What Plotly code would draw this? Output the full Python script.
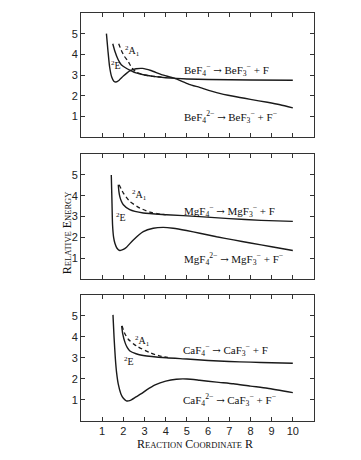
import plotly.graph_objects as go

# ---------------- data ----------------
# Be panel
be_di_R = [1.2, 1.27, 1.35, 1.45, 1.55, 1.65, 1.8, 2.0, 2.3, 2.6, 2.9, 3.3, 3.8, 4.4, 5.1, 5.6, 6.4, 7.2, 8.0, 8.8, 9.4, 10.0]
be_di_E = [5.0, 4.2, 3.4, 2.9, 2.7, 2.66, 2.75, 2.95, 3.2, 3.3, 3.32, 3.22, 3.02, 2.85, 2.55, 2.4, 2.15, 1.97, 1.82, 1.68, 1.56, 1.41]
be_E_R = [1.5, 1.6, 1.75, 1.9, 2.1, 2.3, 2.6, 3.0, 3.5, 4.0, 5.0, 6.0, 8.0, 10.0]
be_E_E = [4.51, 4.15, 3.75, 3.5, 3.35, 3.24, 3.1, 3.0, 2.92, 2.87, 2.81, 2.78, 2.76, 2.75]
be_A_R = [1.78, 1.9, 2.05, 2.2, 2.4, 2.6, 2.9, 3.3, 3.8]
be_A_E = [4.51, 4.2, 3.9, 3.7, 3.35, 3.15, 3.03, 2.95, 2.9]

# Mg panel
mg_di_R = [1.43, 1.46, 1.49, 1.54, 1.6, 1.7, 1.83, 2.0, 2.15, 2.47, 2.94, 3.41, 3.88, 4.35, 4.98, 5.61, 6.4, 7.2, 8.0, 9.0, 10.0]
mg_di_E = [5.0, 3.8, 2.6, 2.0, 1.72, 1.48, 1.37, 1.42, 1.53, 1.88, 2.28, 2.44, 2.48, 2.44, 2.33, 2.2, 2.03, 1.88, 1.73, 1.55, 1.37]
mg_E_R = [1.76, 1.79, 1.83, 1.9, 2.0, 2.3, 2.94, 4.04, 5.61, 7.0, 8.5, 10.0]
mg_E_E = [4.53, 4.2, 3.97, 3.75, 3.57, 3.33, 3.17, 3.09, 3.0, 2.9, 2.82, 2.77]
mg_A_R = [1.8, 1.9, 2.0, 2.3, 2.78, 3.25, 3.6, 4.0]
mg_A_E = [4.53, 4.32, 4.13, 3.73, 3.41, 3.22, 3.14, 3.09]

# Ca panel
ca_di_R = [1.51, 1.56, 1.62, 1.68, 1.76, 1.88, 2.0, 2.14, 2.3, 2.6, 2.85, 3.1, 3.5, 4.0, 4.5, 5.0, 5.6, 6.4, 7.2, 8.0, 8.8, 10.0]
ca_di_E = [5.05, 4.0, 3.0, 2.3, 1.75, 1.3, 1.08, 0.96, 0.97, 1.15, 1.3, 1.48, 1.72, 1.9, 1.99, 2.0, 1.94, 1.85, 1.77, 1.66, 1.56, 1.35]
ca_E_R = [1.92, 1.97, 2.08, 2.18, 2.31, 2.6, 2.94, 4.04, 5.0, 6.0, 7.0, 8.0, 9.0, 10.0]
ca_E_E = [4.53, 4.15, 3.73, 3.5, 3.33, 3.2, 3.12, 3.01, 2.95, 2.88, 2.83, 2.8, 2.77, 2.75]
ca_A_R = [1.94, 2.05, 2.23, 2.62, 3.25, 3.7, 4.1]
ca_A_E = [4.53, 4.2, 3.89, 3.57, 3.25, 3.1, 3.03]

x_ticks = [1, 2, 3, 4, 5, 6, 7, 8, 9, 10]
x_tick_text = ["1", "2", "3", "4", "5", "6", "7", "8", "9", "10"]
y_ticks = [1, 2, 3, 4, 5]
y_tick_text = ["1", "2", "3", "4", "5"]

panels = [
    dict(el="Be", di=(be_di_R, be_di_E), e=(be_E_R, be_E_E), a=(be_A_R, be_A_E),
         lab_a=(2.42, 4.15), lab_e=(1.63, 3.5), mono=(4.75, 3.26), dian=(4.75, 0.95)),
    dict(el="Mg", di=(mg_di_R, mg_di_E), e=(mg_E_R, mg_E_E), a=(mg_A_R, mg_A_E),
         lab_a=(2.78, 4.02), lab_e=(1.88, 3.0), mono=(4.75, 3.28), dian=(4.75, 0.96)),
    dict(el="Ca", di=(ca_di_R, ca_di_E), e=(ca_E_R, ca_E_E), a=(ca_A_R, ca_A_E),
         lab_a=(2.88, 3.82), lab_e=(2.26, 2.85), mono=(4.72, 3.36), dian=(4.72, 1.0)),
]

domains = [[0.696, 1.0], [0.348, 0.654], [0.0, 0.309]]

fig = go.Figure()
LC = "#1a1a1a"
serif = "Liberation Serif"
NB = "\u00a0"
ARROW = f"{NB}<span style='font-family:DejaVu Serif;font-size:10px'>\u2192</span>{NB}"
PLUS = f"{NB}+{NB}"
ann = []
for i, p in enumerate(panels):
    n = "" if i == 0 else str(i + 1)
    xa, ya = "x" + n, "y" + n
    common = dict(xaxis=xa, yaxis=ya, mode="lines", showlegend=False, hoverinfo="skip")
    fig.add_trace(go.Scatter(x=p["di"][0], y=p["di"][1], line=dict(color=LC, width=1.4, shape="spline", smoothing=0.6), **common))
    fig.add_trace(go.Scatter(x=p["e"][0], y=p["e"][1], line=dict(color=LC, width=1.4, shape="spline", smoothing=0.6), **common))
    fig.add_trace(go.Scatter(x=p["a"][0], y=p["a"][1], line=dict(color=LC, width=1.3, dash="4px,3px", shape="spline", smoothing=0.6), **common))

    ax = dict(range=[0, 11], domain=[0, 1], anchor=ya, showgrid=False, zeroline=False, automargin=False,
              showline=True, linecolor="#333", linewidth=1, mirror="ticks",
              ticks="inside", ticklen=4, tickcolor="#333", tickvals=x_ticks, ticktext=x_tick_text,
              showticklabels=(i == 2),
              tickfont=dict(family="Liberation Sans", size=11, color="#222"))
    ay = dict(range=[0, 6], domain=domains[i], anchor=xa, showgrid=False, zeroline=False, automargin=False,
              showline=True, linecolor="#333", linewidth=1, mirror="ticks",
              ticks="inside", ticklen=4, tickcolor="#333", tickvals=y_ticks, ticktext=y_tick_text,
              tickfont=dict(family="Liberation Sans", size=11, color="#222"))
    fig.update_layout(**{"xaxis" + n: ax, "yaxis" + n: ay})

    el = p["el"]
    af = dict(family=serif, size=11, color="#111")
    sf = dict(family=serif, size=10, color="#111")
    ann.append(dict(x=p["lab_a"][0], y=p["lab_a"][1], xref=xa, yref=ya, showarrow=False,
                    text="<sup>2</sup>A<sub>1</sub>", font=sf))
    ann.append(dict(x=p["lab_e"][0], y=p["lab_e"][1], xref=xa, yref=ya, showarrow=False,
                    text="<sup>2</sup>E", font=sf))
    ann.append(dict(x=p["mono"][0], y=p["mono"][1], xref=xa, yref=ya, showarrow=False, xanchor="left",
                    text=f"{el}F<sub>4</sub><sup>−</sup>{ARROW}{el}F<sub>3</sub><sup>−</sup>{PLUS}F", font=af))
    ann.append(dict(x=p["dian"][0], y=p["dian"][1], xref=xa, yref=ya, showarrow=False, xanchor="left",
                    text=f"{el}F<sub>4</sub><sup>2−</sup>{ARROW}{el}F<sub>3</sub><sup>−</sup>{PLUS}F<sup>−</sup>", font=af))

sc = "font-size:8.5px"
ann.append(dict(x=-0.1, y=0.462, xref="paper", yref="paper", showarrow=False, textangle=-90,
                text=f"R<span style='{sc}'>ELATIVE</span> E<span style='{sc}'>NERGY</span>",
                font=dict(family=serif, size=12, color="#111")))
ann.append(dict(x=0.49, y=-0.056, xref="paper", yref="paper", showarrow=False, yanchor="middle",
                text=f"R<span style='{sc}'>EACTION</span> C<span style='{sc}'>OORDINATE</span> R",
                font=dict(family=serif, size=12, color="#111")))

# the page body has an 8px default margin, so the figure is offset by 8px
fig.update_layout(width=353, height=452, margin=dict(l=73, r=47, t=5, b=39, autoexpand=False),
                  paper_bgcolor="white", plot_bgcolor="white", annotations=ann)
fig.write_html("out.html")
